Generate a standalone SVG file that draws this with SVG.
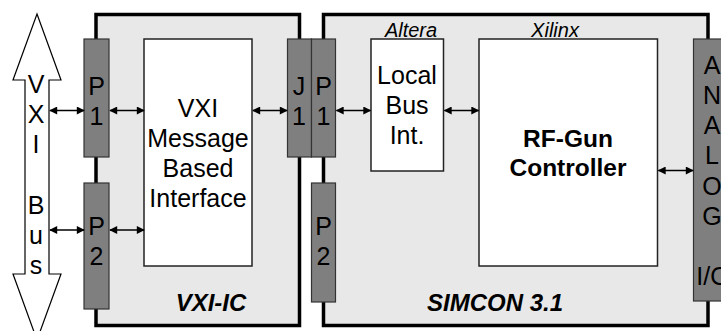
<svg xmlns="http://www.w3.org/2000/svg" width="721" height="331" viewBox="0 0 721 331">
<defs>
<marker id="ah" viewBox="0 0 10 10" refX="9" refY="5" markerWidth="9" markerHeight="8" markerUnits="userSpaceOnUse" orient="auto-start-reverse">
<path d="M0,0 L10,5 L0,10 z" fill="#000"/>
</marker>
<style>
.outer{fill:#e8e8e8;stroke:#000;stroke-width:3.5}
.inner{fill:#fff;stroke:#222;stroke-width:1.5}
.conn{fill:#7f7f7f;stroke:#333;stroke-width:1.2}
.t{font-family:"Liberation Sans",Arial,sans-serif;font-size:25px;fill:#000;text-anchor:middle}
.b{font-weight:bold;font-size:24.5px}
.it{font-style:italic;font-size:20px}
.bi{font-weight:bold;font-style:italic;font-size:24px}
.link{stroke:#000;stroke-width:1.7;fill:none;marker-start:url(#ah);marker-end:url(#ah)}
</style>
</defs>
<rect width="721" height="331" fill="#fff"/>

<g id="vxi-bus">
<polygon points="37,14 61,80 49,80 49,274 61,274 37,340 13,274 25,274 25,80 13,80" fill="#fff" stroke="#000" stroke-width="1.2"/>
<text class="t" x="36" y="93">V</text>
<text class="t" x="36" y="123">X</text>
<text class="t" x="36" y="153">I</text>
<text class="t" x="36" y="214">B</text>
<text class="t" x="36" y="244">u</text>
<text class="t" x="36" y="274">s</text>
</g>

<g id="vxi-ic">
<rect class="outer" x="96" y="14.5" width="203.5" height="311"/>
<text class="t bi" x="211" y="311">VXI-IC</text>
</g>

<g id="simcon">
<rect class="outer" x="323.5" y="14.5" width="384.5" height="311"/>
<text class="t bi" x="495" y="311">SIMCON 3.1</text>
</g>

<g id="vxi-p1">
<rect class="conn" x="84" y="39" width="25" height="118"/>
<text class="t" x="96.5" y="95">P</text>
<text class="t" x="96.5" y="125">1</text>
</g>

<g id="vxi-p2">
<rect class="conn" x="84" y="183" width="25" height="126"/>
<text class="t" x="96.5" y="235">P</text>
<text class="t" x="96.5" y="265">2</text>
</g>

<g id="vxi-mbi">
<rect class="inner" x="144" y="39" width="108" height="227"/>
<text class="t" x="198" y="117">VXI</text>
<text class="t" x="198" y="147">Message</text>
<text class="t" x="198" y="177">Based</text>
<text class="t" x="198" y="207">Interface</text>
</g>

<g id="j1">
<rect class="conn" x="287.5" y="39" width="24" height="118"/>
<text class="t" x="299" y="95">J</text>
<text class="t" x="299" y="125">1</text>
</g>

<g id="simcon-p1">
<rect class="conn" x="311.5" y="39" width="24" height="118"/>
<text class="t" x="323.5" y="95">P</text>
<text class="t" x="323.5" y="125">1</text>
</g>

<g id="simcon-p2">
<rect class="conn" x="311.5" y="183" width="24" height="119"/>
<text class="t" x="323.5" y="235">P</text>
<text class="t" x="323.5" y="265">2</text>
</g>

<g id="local-bus">
<rect class="inner" x="371" y="39" width="72.5" height="132"/>
<text class="t it" x="411" y="37">Altera</text>
<text class="t" x="407" y="84">Local</text>
<text class="t" x="407" y="114">Bus</text>
<text class="t" x="407" y="144">Int.</text>
</g>

<g id="rf-gun">
<rect class="inner" x="479" y="39" width="178.5" height="227"/>
<text class="t it" x="555" y="37">Xilinx</text>
<text class="t b" x="568" y="147">RF-Gun</text>
<text class="t b" x="568" y="176">Controller</text>
</g>

<g id="analog-io">
<rect class="conn" x="693.5" y="39" width="40" height="262"/>
<text class="t" x="712" y="74">A</text>
<text class="t" x="712" y="104">N</text>
<text class="t" x="712" y="134">A</text>
<text class="t" x="712" y="164">L</text>
<text class="t" x="712" y="195">O</text>
<text class="t" x="712" y="225">G</text>
<text class="t" x="713" y="285">I/O</text>
</g>

<g id="connectors">
<line class="link" x1="50" y1="110.5" x2="84" y2="110.5"/>
<line class="link" x1="110" y1="110.5" x2="144" y2="110.5"/>
<line class="link" x1="50" y1="230" x2="84" y2="230"/>
<line class="link" x1="110" y1="230" x2="144" y2="230"/>
<line class="link" x1="253" y1="110.5" x2="287" y2="110.5"/>
<line class="link" x1="336.5" y1="110.5" x2="370.5" y2="110.5"/>
<line class="link" x1="444.5" y1="110.5" x2="478.5" y2="110.5"/>
<line class="link" x1="658.5" y1="170.5" x2="693" y2="170.5"/>
</g>
</svg>
